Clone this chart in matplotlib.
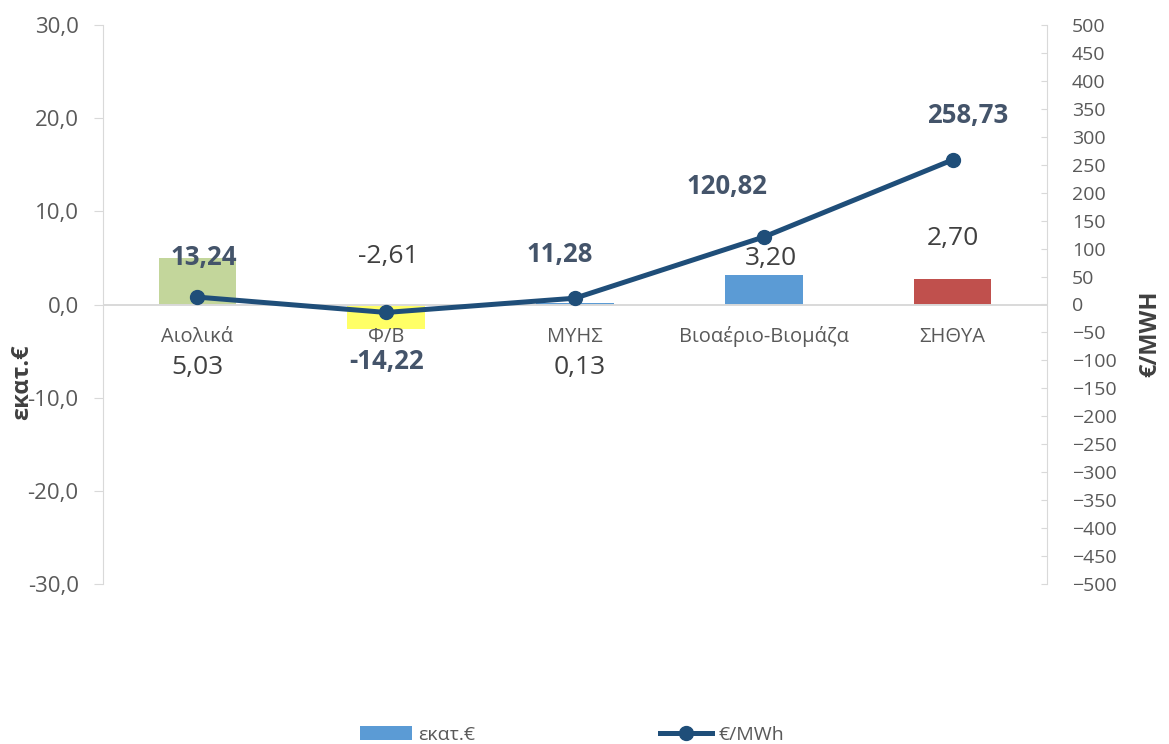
import numpy as np
import matplotlib
matplotlib.use('Agg')
import matplotlib.pyplot as plt
from matplotlib.ticker import FuncFormatter, MultipleLocator
from matplotlib.patches import Patch
from matplotlib.lines import Line2D

plt.rcParams['font.family'] = ['Open Sans', 'DejaVu Sans']

# data
categories = ['Αιολικά', 'Φ/Β', 'ΜΥΗΣ', 'Βιοαέριο-Βιομάζα', 'ΣΗΘΥΑ']
mil_eur = [5.03, -2.61, 0.13, 3.20, 2.70]          # εκατ.€ (bars, left axis)
eur_mwh = [13.24, -14.22, 11.28, 120.82, 258.73]   # €/MWh (line, right axis)

bar_colors = ['#c3d69b', '#ffff66', '#5b9bd5', '#5b9bd5', '#c0504d']
line_color = '#1f4e79'
grey = '#d9d9d9'

# label offsets in pixels (dx, dy) from the data point
bar_lbl_off = [(0, -110), (2, 72), (5, -64), (7, 16), (0, 41)]
line_lbl_off = [(6, 40), (0, -49), (-15, 44), (-37, 50), (15, 44)]

def comma(v, pos=None, fmt='{:.1f}'):
    return fmt.format(v).replace('.', ',')

fig = plt.figure(figsize=(11.69, 7.44), dpi=100)
ax = fig.add_axes([103/1169, 160/744, 944/1169, 559/744])
ax2 = ax.twinx()

x = np.arange(len(categories))
ax.bar(x, mil_eur, width=0.41, color=bar_colors, zorder=2)
ax.axhline(0, color=grey, lw=1.4, zorder=2.5)
ax.set_xlim(-0.5, len(categories) - 0.5)
ax.set_ylim(-30, 30)
ax.yaxis.set_major_locator(MultipleLocator(10))
ax.yaxis.set_major_formatter(FuncFormatter(comma))
ax.set_xticks([])
for s in ['top', 'bottom', 'right']:
    ax.spines[s].set_visible(False)
ax.spines['left'].set_color(grey)
ax.tick_params(axis='y', colors=grey, length=6.5, labelsize=16, labelcolor='#595959', pad=11)

ax2.plot(x, eur_mwh, color=line_color, lw=3.6, marker='o', markersize=10, zorder=3)
ax2.set_ylim(-500, 500)
ax2.yaxis.set_major_locator(MultipleLocator(50))
for s in ['top', 'bottom', 'left']:
    ax2.spines[s].set_visible(False)
ax2.spines['right'].set_color(grey)
ax2.tick_params(axis='y', direction='in', colors=grey, length=4, labelsize=14,
                labelcolor='#595959', pad=18)

# category labels under the zero line
for i, c in enumerate(categories):
    ax.annotate(c, xy=(i, 0), xytext=(0, -32), textcoords='offset pixels',
                ha='center', va='center', fontsize=14.5, color='#595959')

# bar value labels
for i, v in enumerate(mil_eur):
    dx, dy = bar_lbl_off[i]
    ax.annotate(comma(v, fmt='{:.2f}'), xy=(i, v), xytext=(dx, dy),
                textcoords='offset pixels', ha='center', va='center',
                fontsize=19, color='#404040', zorder=5)

# line value labels
for i, v in enumerate(eur_mwh):
    dx, dy = line_lbl_off[i]
    ax2.annotate(comma(v, fmt='{:.2f}'), xy=(i, v), xytext=(dx, dy),
                 textcoords='offset pixels', ha='center', va='center',
                 fontsize=18.5, fontweight='bold', color='#44546a', zorder=5)

fig.text(22/1169, 1 - 382/744, 'εκατ.€', rotation=90, ha='center', va='center',
         fontsize=17, fontweight='bold', color='#404040')
fig.text(1150/1169, 1 - 334/744, '€/MWH', rotation=90, ha='center', va='center',
         fontsize=17, fontweight='bold', color='#404040')

handles = [Patch(facecolor='#5b9bd5', edgecolor='none'),
           Line2D([0], [0], color=line_color, lw=3.6, marker='o', markersize=10)]
fig.legend(handles, ['εκατ.€', '€/MWh'], loc='center', bbox_to_anchor=(572/1169, 1 - 735/744),
           ncol=2, frameon=False, fontsize=14, handlelength=2.7, handletextpad=0.3,
           columnspacing=9.5, labelcolor='#595959')

fig.savefig('out.png', dpi=100)
